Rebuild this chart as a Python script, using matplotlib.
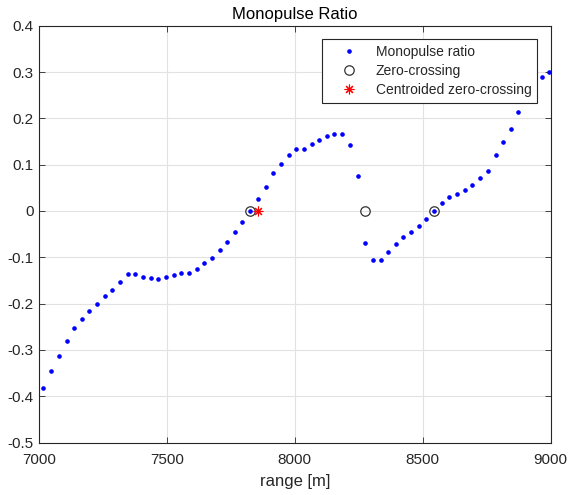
import matplotlib
matplotlib.use("Agg")
import matplotlib.pyplot as plt

# monopulse ratio samples
range_m = [7017, 7048, 7078, 7108, 7137, 7167, 7197, 7226, 7258, 7287,
           7317, 7347, 7377, 7408, 7437, 7467, 7497, 7527, 7556, 7586,
           7616, 7647, 7677, 7706, 7736, 7766, 7795, 7825, 7856, 7886,
           7916, 7945, 7977, 8006, 8036, 8066, 8095, 8125, 8155, 8186,
           8216, 8246, 8275, 8305, 8336, 8365, 8396, 8425, 8455, 8485,
           8514, 8544, 8575, 8605, 8635, 8664, 8694, 8725, 8755, 8785,
           8815, 8844, 8874, 8904, 8934, 8965, 8996]
ratio = [-0.382, -0.345, -0.314, -0.280, -0.253, -0.233, -0.215, -0.200, -0.184, -0.171,
         -0.153, -0.137, -0.137, -0.143, -0.145, -0.146, -0.142, -0.138, -0.133, -0.133,
         -0.125, -0.112, -0.102, -0.085, -0.068, -0.046, -0.023, 0.000, 0.025, 0.051,
         0.081, 0.102, 0.121, 0.134, 0.134, 0.144, 0.153, 0.162, 0.166, 0.166,
         0.142, 0.076, -0.070, -0.106, -0.106, -0.089, -0.071, -0.056, -0.046, -0.033,
         -0.017, 0.000, 0.017, 0.030, 0.037, 0.045, 0.056, 0.071, 0.087, 0.122,
         0.148, 0.177, 0.214, 0.245, 0.268, 0.290, 0.300]

zc_range = [7825, 8275, 8544]
zc_value = [0, 0, 0]
centroid_range = [7855]
centroid_value = [0]

xticks = [7000, 7500, 8000, 8500, 9000]
yticks = [0.4, 0.3, 0.2, 0.1, 0, -0.1, -0.2, -0.3, -0.4, -0.5]
ytick_labels = ["0.4", "0.3", "0.2", "0.1", "0", "-0.1", "-0.2", "-0.3", "-0.4", "-0.5"]

plt.rcParams["font.family"] = ["Liberation Sans", "DejaVu Sans"]
AX_COL = "#262626"

fig = plt.figure(figsize=(5.68, 4.95), dpi=100)
ax = fig.add_axes([39 / 568, 52.5 / 495, 511.5 / 568, 416.7 / 495])

ax.plot(range_m, ratio, ls="none", marker=".", ms=4.6, color="#0000ff",
        label="Monopulse ratio", zorder=3)
ax.plot(zc_range, zc_value, ls="none", marker="o", ms=6.8, mfc="none", mec="#333333",
        mew=0.9, label="Zero-crossing", zorder=3)
ax.plot(centroid_range, centroid_value, ls="none", marker=(8, 2, 0), ms=7, color="#ff0000",
        mew=0.8, label="Centroided zero-crossing", zorder=4)

ax.set_xlim(7000, 9000)
ax.set_ylim(-0.5, 0.4)
ax.set_xticks(xticks)
ax.set_yticks(yticks)
ax.set_yticklabels(ytick_labels)
ax.tick_params(direction="in", length=4, width=0.6, colors=AX_COL, labelsize=11,
               top=True, right=True, pad=4)
ax.tick_params(axis="x", pad=7.5)
ax.grid(True, color="#e2e2e2", lw=0.8)
ax.set_axisbelow(True)
for sp in ax.spines.values():
    sp.set_color(AX_COL)
    sp.set_linewidth(0.8)

ax.set_title("Monopulse Ratio", fontsize=12, color="#000000", pad=5)
ax.set_xlabel("range [m]", fontsize=12, color=AX_COL, labelpad=5)

leg = ax.legend(loc="upper right", bbox_to_anchor=(0.9736, 0.9683), borderaxespad=0,
                fontsize=10, numpoints=1, handlelength=3.1, handletextpad=0.4,
                borderpad=0.4, labelspacing=0.38, fancybox=False, framealpha=1,
                edgecolor=AX_COL)
leg.get_frame().set_linewidth(0.8)
for t in leg.get_texts():
    t.set_color(AX_COL)

fig.savefig("out.png", dpi=100)
